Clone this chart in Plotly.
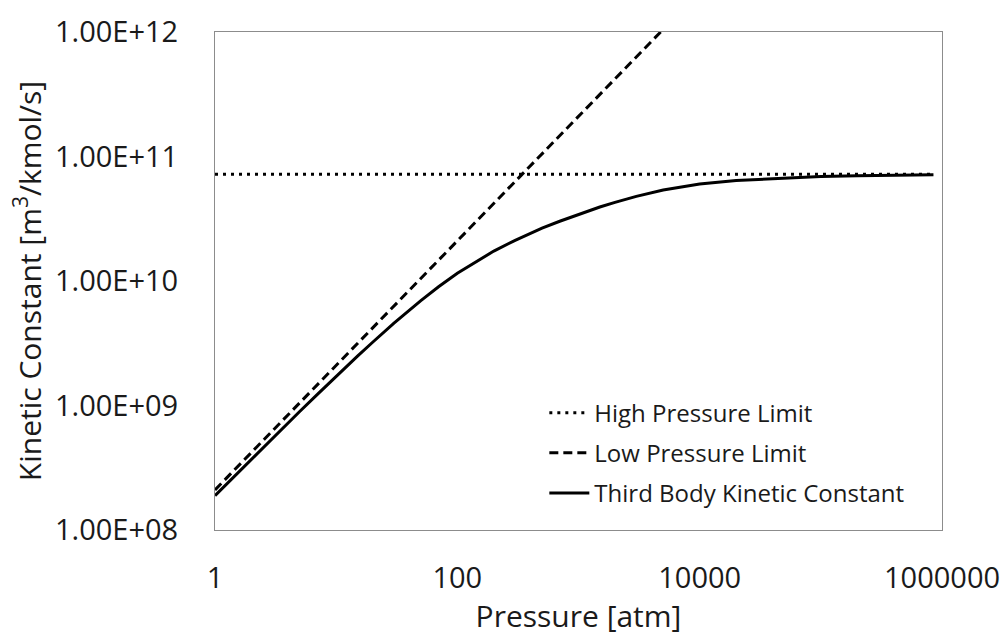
import plotly.graph_objects as go

# Pressure grid (atm) and third-body rate constant (m3/kmol/s)
pressure = [1, 2, 3, 5, 7, 10, 15, 20, 30, 50, 70, 100, 150, 200, 300, 500,
            700, 1000, 1500, 2000, 3000, 5000, 7000, 10000, 20000, 50000,
            100000, 200000, 500000, 850000]
k_third_body = [1.89e8, 3.71e8, 5.48e8, 8.95e8, 1.23e9, 1.72e9, 2.49e9, 3.22e9,
                4.58e9, 6.96e9, 8.98e9, 1.153e10, 1.48e10, 1.74e10, 2.12e10,
                2.66e10, 3.02e10, 3.42e10, 3.93e10, 4.28e10, 4.78e10, 5.38e10,
                5.72e10, 6.02e10, 6.42e10, 6.74e10, 6.9e10, 7.0e10, 7.1e10, 7.15e10]

# Low-pressure (linear in P) and high-pressure limits
pressure_low = [1, 10, 100, 1000, 10000]
k_low = [2.1e8, 2.1e9, 2.1e10, 2.1e11, 2.1e12]

pressure_high = [1, 850000]
k_high = [7.2e10, 7.2e10]

x_ticks = [1, 100, 10000, 1000000]
x_ticktext = ["1", "100", "10000", "1000000"]
y_ticks = [1e8, 1e9, 1e10, 1e11, 1e12]
y_ticktext = ["1.00E+08", "1.00E+09", "1.00E+10", "1.00E+11", "1.00E+12"]

FONT = "Open Sans"
TEXT = "#1a1a1a"
FRAME = "#8c8c8c"

fig = go.Figure()
fig.add_trace(go.Scatter(
    x=pressure_high, y=k_high, mode="lines", name="High Pressure Limit",
    legendgroup="a",
    line=dict(color="black", width=3, dash="3px,5px")))
fig.add_trace(go.Scatter(
    x=pressure_low, y=k_low, mode="lines", name="Low Pressure Limit",
    legendgroup="b",
    line=dict(color="black", width=3, dash="9px,5px")))
fig.add_trace(go.Scatter(
    x=pressure, y=k_third_body, mode="lines", name="Third Body Kinetic Constant",
    legendgroup="c",
    line=dict(color="black", width=3)))

fig.update_layout(
    width=1007, height=636,
    margin=dict(l=215, r=65, t=32, b=106),
    paper_bgcolor="white", plot_bgcolor="white",
    font=dict(family=FONT, color=TEXT),
    showlegend=True,
    legend=dict(
        x=0.453, y=0.28, xanchor="left", yanchor="top",
        font=dict(family=FONT, size=24, color=TEXT),
        bgcolor="rgba(0,0,0,0)", borderwidth=0,
        tracegroupgap=6, itemwidth=40,
    ),
)
fig.update_xaxes(
    type="log", range=[0, 6], automargin=False,
    tickvals=x_ticks, ticktext=x_ticktext,
    tickfont=dict(size=29), ticks="", ticklabelstandoff=22,
    showgrid=False, zeroline=False,
    showline=True, linecolor=FRAME, linewidth=1, mirror=True,
    title=dict(text="Pressure [atm]", font=dict(size=30), standoff=14),
)
fig.update_yaxes(
    type="log", range=[8, 12], automargin=False,
    tickvals=y_ticks, ticktext=y_ticktext,
    tickfont=dict(size=29), ticks="", ticklabelstandoff=30,
    showgrid=False, zeroline=False,
    showline=True, linecolor=FRAME, linewidth=1, mirror=True,
    title=dict(text="Kinetic Constant [m<sup>3</sup>/kmol/s]", font=dict(size=30), standoff=4),
)

fig.write_html("out.html")
